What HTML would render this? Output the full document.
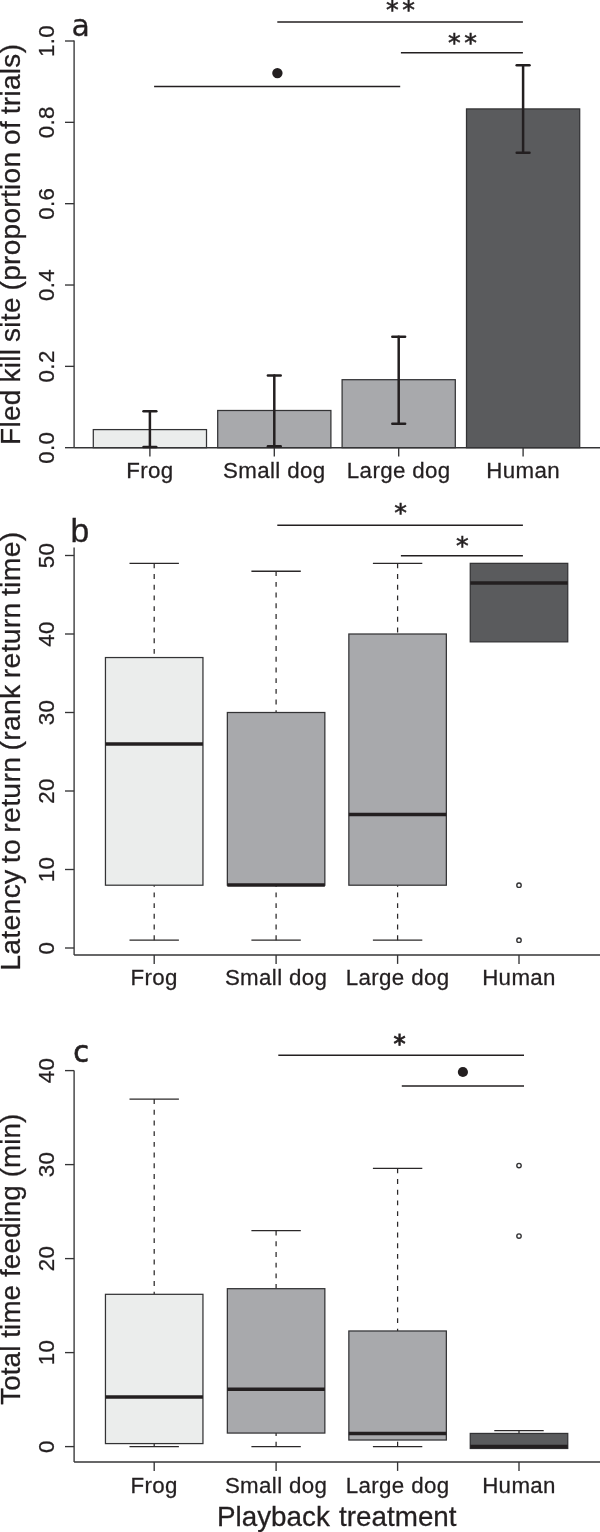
<!DOCTYPE html>
<html lang="en"><head><meta charset="utf-8"><title>Figure</title>
<style>html,body{margin:0;padding:0;background:#fff}svg{display:block}text{font-family:"Liberation Sans",Arial,Helvetica,sans-serif;fill:#231f20}.tk,.lb{stroke:#231f20;stroke-width:0.28}.tk{font-size:22.3px;letter-spacing:.36px}.lb{font-size:27.6px}.dj{font-family:"DejaVu Sans","Liberation Sans",sans-serif}.st{font-family:"DejaVu Sans","Liberation Sans",sans-serif;font-size:26px;stroke:#231f20;stroke-width:0.55}.stb{stroke:#231f20;stroke-width:0.9}.ax{stroke:#343436;stroke-width:1.35;fill:none}.sg{stroke:#231f20;stroke-width:1.5;fill:none}.bx{stroke:#333335;stroke-width:1.25}.md{stroke:#231f20;stroke-width:3.5;fill:none}.wh{stroke:#2b2829;stroke-width:1.25;fill:none;stroke-dasharray:4.9 5.8}.wc{stroke:#2b2829;stroke-width:1.4;fill:none}.eb{stroke:#231f20;stroke-width:2.5;fill:none;stroke-linecap:round}.ol{stroke:#333335;stroke-width:1.4;fill:#fff}</style></head><body>
<svg width="600" height="1532" viewBox="0 0 600 1532">
<rect width="600" height="1532" fill="#fff"/>
<line class="ax" x1="74.10" y1="40.50" x2="74.10" y2="447.70"/>
<line class="ax" x1="65.00" y1="447.70" x2="74.10" y2="447.70"/>
<text class="tk" transform="translate(54.20 447.70) rotate(-90)" text-anchor="middle">0.0</text>
<line class="ax" x1="65.00" y1="366.36" x2="74.10" y2="366.36"/>
<text class="tk" transform="translate(54.20 366.36) rotate(-90)" text-anchor="middle">0.2</text>
<line class="ax" x1="65.00" y1="285.02" x2="74.10" y2="285.02"/>
<text class="tk" transform="translate(54.20 285.02) rotate(-90)" text-anchor="middle">0.4</text>
<line class="ax" x1="65.00" y1="203.68" x2="74.10" y2="203.68"/>
<text class="tk" transform="translate(54.20 203.68) rotate(-90)" text-anchor="middle">0.6</text>
<line class="ax" x1="65.00" y1="122.34" x2="74.10" y2="122.34"/>
<text class="tk" transform="translate(54.20 122.34) rotate(-90)" text-anchor="middle">0.8</text>
<line class="ax" x1="65.00" y1="41.00" x2="74.10" y2="41.00"/>
<text class="tk" transform="translate(54.20 41.00) rotate(-90)" text-anchor="middle">1.0</text>
<text class="lb" transform="translate(20.00 445.00) rotate(-90)" style="font-size:28px;letter-spacing:.31px;word-spacing:-1.39px">Fled kill site (proportion of trials)</text>
<text transform="translate(71.50 35.50) scale(0.977 1)" font-size="30.7" class="dj" stroke="#231f20" stroke-width="0.25">a</text>
<rect class="bx" x="93.30" y="429.60" width="113.20" height="18.10" fill="#ebedec"/>
<rect class="bx" x="217.70" y="410.49" width="113.20" height="37.21" fill="#a8a9ac"/>
<rect class="bx" x="342.10" y="379.70" width="113.20" height="68.00" fill="#a8a9ac"/>
<rect class="bx" x="466.50" y="108.92" width="113.20" height="338.78" fill="#5a5b5d"/>
<line class="ax" x1="74.10" y1="447.70" x2="600.00" y2="447.70"/>
<line class="ax" x1="149.90" y1="447.70" x2="149.90" y2="456.60"/>
<line class="eb" x1="149.90" y1="446.89" x2="149.90" y2="411.22"/>
<line class="eb" x1="143.50" y1="446.89" x2="156.30" y2="446.89"/>
<line class="eb" x1="143.50" y1="411.22" x2="156.30" y2="411.22"/>
<text class="tk" x="149.90" y="477.80" text-anchor="middle">Frog</text>
<line class="ax" x1="274.30" y1="447.70" x2="274.30" y2="456.60"/>
<line class="eb" x1="274.30" y1="446.20" x2="274.30" y2="375.51"/>
<line class="eb" x1="267.90" y1="446.20" x2="280.70" y2="446.20"/>
<line class="eb" x1="267.90" y1="375.51" x2="280.70" y2="375.51"/>
<text class="tk" x="274.30" y="477.80" text-anchor="middle">Small dog</text>
<line class="ax" x1="398.70" y1="447.70" x2="398.70" y2="456.60"/>
<line class="eb" x1="398.70" y1="423.70" x2="398.70" y2="336.67"/>
<line class="eb" x1="392.30" y1="423.70" x2="405.10" y2="423.70"/>
<line class="eb" x1="392.30" y1="336.67" x2="405.10" y2="336.67"/>
<text class="tk" x="398.70" y="477.80" text-anchor="middle">Large dog</text>
<line class="ax" x1="523.10" y1="447.70" x2="523.10" y2="456.60"/>
<line class="eb" x1="523.10" y1="152.64" x2="523.10" y2="65.20"/>
<line class="eb" x1="516.70" y1="152.64" x2="529.50" y2="152.64"/>
<line class="eb" x1="516.70" y1="65.20" x2="529.50" y2="65.20"/>
<text class="tk" x="523.10" y="477.80" text-anchor="middle">Human</text>
<line class="sg" x1="277.30" y1="21.90" x2="522.90" y2="21.90"/>
<line class="sg" x1="400.90" y1="52.70" x2="522.90" y2="52.70"/>
<line class="sg" x1="154.10" y1="86.50" x2="400.20" y2="86.50"/>
<text class="st" x="386.00" y="18.05" style="font-size:25.4px">*</text>
<text class="st" x="402.30" y="18.05" style="font-size:25.4px">*</text>
<text class="st" x="447.95" y="50.75" style="font-size:25.4px">*</text>
<text class="st" x="464.25" y="50.75" style="font-size:25.4px">*</text>
<circle cx="277.4" cy="73.1" r="5.2" fill="#231f20"/>
<line class="ax" x1="74.10" y1="547.60" x2="74.10" y2="955.00"/>
<line class="ax" x1="74.10" y1="955.00" x2="600.00" y2="955.00"/>
<line class="ax" x1="65.00" y1="948.00" x2="74.10" y2="948.00"/>
<text class="tk" transform="translate(54.20 948.00) rotate(-90)" text-anchor="middle">0</text>
<line class="ax" x1="65.00" y1="869.50" x2="74.10" y2="869.50"/>
<text class="tk" transform="translate(54.20 869.50) rotate(-90)" text-anchor="middle">10</text>
<line class="ax" x1="65.00" y1="791.00" x2="74.10" y2="791.00"/>
<text class="tk" transform="translate(54.20 791.00) rotate(-90)" text-anchor="middle">20</text>
<line class="ax" x1="65.00" y1="712.50" x2="74.10" y2="712.50"/>
<text class="tk" transform="translate(54.20 712.50) rotate(-90)" text-anchor="middle">30</text>
<line class="ax" x1="65.00" y1="634.00" x2="74.10" y2="634.00"/>
<text class="tk" transform="translate(54.20 634.00) rotate(-90)" text-anchor="middle">40</text>
<line class="ax" x1="65.00" y1="555.50" x2="74.10" y2="555.50"/>
<text class="tk" transform="translate(54.20 555.50) rotate(-90)" text-anchor="middle">50</text>
<line class="wh" x1="154.20" y1="563.35" x2="154.20" y2="657.55"/>
<line class="wc" x1="129.50" y1="563.35" x2="178.90" y2="563.35"/>
<line class="wh" x1="154.20" y1="940.15" x2="154.20" y2="885.20"/>
<line class="wc" x1="129.50" y1="940.15" x2="178.90" y2="940.15"/>
<rect class="bx" x="105.45" y="657.55" width="97.50" height="227.65" fill="#ebedec"/>
<line class="md" x1="105.45" y1="743.90" x2="202.95" y2="743.90"/>
<line class="ax" x1="154.20" y1="955.00" x2="154.20" y2="963.90"/>
<text class="tk" x="154.20" y="984.60" text-anchor="middle">Frog</text>
<line class="wh" x1="276.10" y1="571.20" x2="276.10" y2="712.50"/>
<line class="wc" x1="251.40" y1="571.20" x2="300.80" y2="571.20"/>
<line class="wh" x1="276.10" y1="940.15" x2="276.10" y2="885.20"/>
<line class="wc" x1="251.40" y1="940.15" x2="300.80" y2="940.15"/>
<rect class="bx" x="227.35" y="712.50" width="97.50" height="172.70" fill="#a8a9ac"/>
<line class="md" x1="227.35" y1="884.89" x2="324.85" y2="884.89"/>
<line class="ax" x1="276.10" y1="955.00" x2="276.10" y2="963.90"/>
<text class="tk" x="276.10" y="984.60" text-anchor="middle">Small dog</text>
<line class="wh" x1="397.60" y1="563.35" x2="397.60" y2="634.00"/>
<line class="wc" x1="372.90" y1="563.35" x2="422.30" y2="563.35"/>
<line class="wh" x1="397.60" y1="940.15" x2="397.60" y2="885.20"/>
<line class="wc" x1="372.90" y1="940.15" x2="422.30" y2="940.15"/>
<rect class="bx" x="348.85" y="634.00" width="97.50" height="251.20" fill="#a8a9ac"/>
<line class="md" x1="348.85" y1="814.55" x2="446.35" y2="814.55"/>
<line class="ax" x1="397.60" y1="955.00" x2="397.60" y2="963.90"/>
<text class="tk" x="397.60" y="984.60" text-anchor="middle">Large dog</text>
<rect class="bx" x="470.25" y="563.35" width="97.50" height="78.50" fill="#5a5b5d"/>
<line class="md" x1="470.25" y1="582.98" x2="567.75" y2="582.98"/>
<line class="ax" x1="519.00" y1="955.00" x2="519.00" y2="963.90"/>
<text class="tk" x="519.00" y="984.60" text-anchor="middle">Human</text>
<circle class="ol" cx="519.00" cy="885.20" r="2.2"/>
<circle class="ol" cx="519.00" cy="940.15" r="2.2"/>
<text class="lb" transform="translate(20.00 970.80) rotate(-90)" style="font-size:28.4px;letter-spacing:.28px;word-spacing:-1.9px">Latency to return (rank return time)</text>
<text transform="translate(70.50 542.30) scale(1.000 1)" font-size="33.7" stroke="#231f20" stroke-width="0.3">b</text>
<line class="sg" x1="277.30" y1="525.30" x2="522.90" y2="525.30"/>
<line class="sg" x1="400.90" y1="555.70" x2="522.90" y2="555.70"/>
<text class="st" x="394.35" y="521.35" style="font-size:25.4px">*</text>
<text class="st" x="455.95" y="553.95" style="font-size:25.4px">*</text>
<line class="ax" x1="74.10" y1="1070.50" x2="74.10" y2="1462.00"/>
<line class="ax" x1="74.10" y1="1462.00" x2="600.00" y2="1462.00"/>
<line class="ax" x1="65.00" y1="1446.60" x2="74.10" y2="1446.60"/>
<text class="tk" transform="translate(54.20 1446.60) rotate(-90)" text-anchor="middle">0</text>
<line class="ax" x1="65.00" y1="1352.60" x2="74.10" y2="1352.60"/>
<text class="tk" transform="translate(54.20 1352.60) rotate(-90)" text-anchor="middle">10</text>
<line class="ax" x1="65.00" y1="1258.60" x2="74.10" y2="1258.60"/>
<text class="tk" transform="translate(54.20 1258.60) rotate(-90)" text-anchor="middle">20</text>
<line class="ax" x1="65.00" y1="1164.60" x2="74.10" y2="1164.60"/>
<text class="tk" transform="translate(54.20 1164.60) rotate(-90)" text-anchor="middle">30</text>
<line class="ax" x1="65.00" y1="1070.60" x2="74.10" y2="1070.60"/>
<text class="tk" transform="translate(54.20 1070.60) rotate(-90)" text-anchor="middle">40</text>
<line class="wh" x1="154.20" y1="1099.08" x2="154.20" y2="1294.32"/>
<line class="wc" x1="129.50" y1="1099.08" x2="178.90" y2="1099.08"/>
<line class="wh" x1="154.20" y1="1446.60" x2="154.20" y2="1443.59"/>
<line class="wc" x1="129.50" y1="1446.60" x2="178.90" y2="1446.60"/>
<rect class="bx" x="105.45" y="1294.32" width="97.50" height="149.27" fill="#ebedec"/>
<line class="md" x1="105.45" y1="1397.06" x2="202.95" y2="1397.06"/>
<line class="ax" x1="154.20" y1="1462.00" x2="154.20" y2="1470.90"/>
<text class="tk" x="154.20" y="1492.50" text-anchor="middle">Frog</text>
<line class="wh" x1="276.10" y1="1230.59" x2="276.10" y2="1288.68"/>
<line class="wc" x1="251.40" y1="1230.59" x2="300.80" y2="1230.59"/>
<line class="wh" x1="276.10" y1="1446.60" x2="276.10" y2="1433.06"/>
<line class="wc" x1="251.40" y1="1446.60" x2="300.80" y2="1446.60"/>
<rect class="bx" x="227.35" y="1288.68" width="97.50" height="144.38" fill="#a8a9ac"/>
<line class="md" x1="227.35" y1="1389.26" x2="324.85" y2="1389.26"/>
<line class="ax" x1="276.10" y1="1462.00" x2="276.10" y2="1470.90"/>
<text class="tk" x="276.10" y="1492.50" text-anchor="middle">Small dog</text>
<line class="wh" x1="397.60" y1="1168.36" x2="397.60" y2="1330.98"/>
<line class="wc" x1="372.90" y1="1168.36" x2="422.30" y2="1168.36"/>
<line class="wh" x1="397.60" y1="1446.60" x2="397.60" y2="1440.02"/>
<line class="wc" x1="372.90" y1="1446.60" x2="422.30" y2="1446.60"/>
<rect class="bx" x="348.85" y="1330.98" width="97.50" height="109.04" fill="#a8a9ac"/>
<line class="md" x1="348.85" y1="1433.44" x2="446.35" y2="1433.44"/>
<line class="ax" x1="397.60" y1="1462.00" x2="397.60" y2="1470.90"/>
<text class="tk" x="397.60" y="1492.50" text-anchor="middle">Large dog</text>
<line class="wh" x1="519.00" y1="1430.62" x2="519.00" y2="1433.44"/>
<line class="wc" x1="494.30" y1="1430.62" x2="543.70" y2="1430.62"/>
<rect class="bx" x="470.25" y="1433.44" width="97.50" height="15.04" fill="#5a5b5d"/>
<line class="md" x1="470.25" y1="1446.60" x2="567.75" y2="1446.60"/>
<line class="ax" x1="519.00" y1="1462.00" x2="519.00" y2="1470.90"/>
<text class="tk" x="519.00" y="1492.50" text-anchor="middle">Human</text>
<circle class="ol" cx="519.00" cy="1165.54" r="2.2"/>
<circle class="ol" cx="519.00" cy="1236.04" r="2.2"/>
<text class="lb" transform="translate(20.00 1404.70) rotate(-90)" style="font-size:27.8px;letter-spacing:.08px;word-spacing:.1px">Total time feeding (min)</text>
<text transform="translate(73.20 1062.40) scale(0.950 1)" font-size="30.2" class="dj" stroke="#231f20" stroke-width="0.7">c</text>
<line class="sg" x1="278.30" y1="1055.30" x2="524.00" y2="1055.30"/>
<line class="sg" x1="401.80" y1="1086.00" x2="524.00" y2="1086.00"/>
<text class="st stb" x="393.45" y="1051.74" style="font-size:24.2px">*</text>
<circle cx="462.9" cy="1072" r="5.1" fill="#231f20"/>
<text class="lb" x="217.00" y="1525.60" style="font-size:27.8px;word-spacing:1.6px">Playback treatment</text>
</svg></body></html>
